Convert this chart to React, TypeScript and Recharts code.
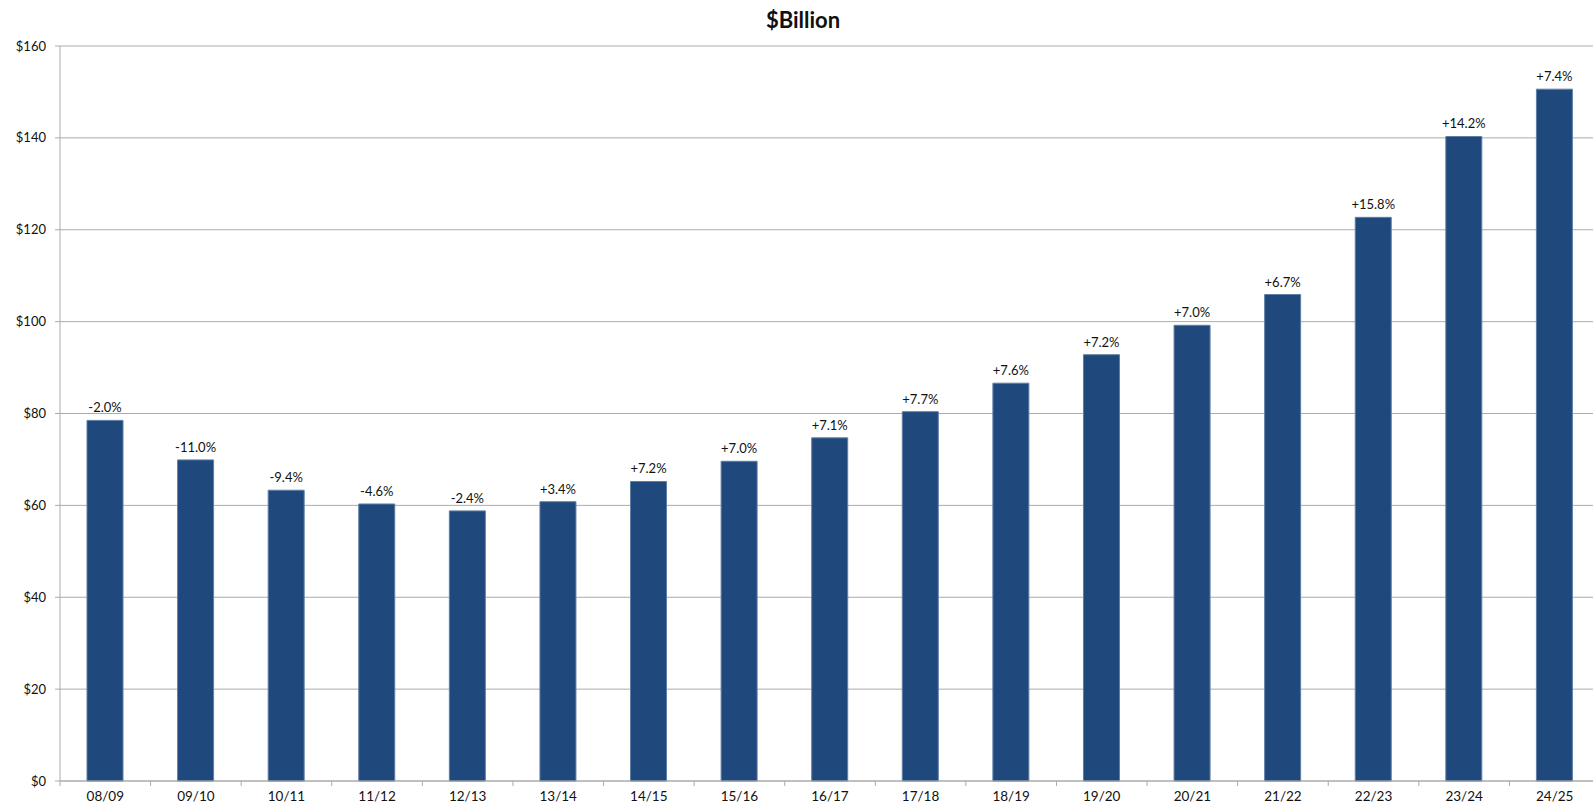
import { BarChart, Bar, XAxis, YAxis, CartesianGrid, LabelList } from 'recharts'

const years = ['08/09', '09/10', '10/11', '11/12', '12/13', '13/14', '14/15', '15/16', '16/17', '17/18', '18/19', '19/20', '20/21', '21/22', '22/23', '23/24', '24/25']
const spending = [78.5, 69.9, 63.3, 60.3, 58.8, 60.8, 65.2, 69.6, 74.7, 80.4, 86.6, 92.8, 99.2, 105.9, 122.7, 140.3, 150.6]
const growth = ['-2.0%', '-11.0%', '-9.4%', '-4.6%', '-2.4%', '+3.4%', '+7.2%', '+7.0%', '+7.1%', '+7.7%', '+7.6%', '+7.2%', '+7.0%', '+6.7%', '+15.8%', '+14.2%', '+7.4%']
const yTicks = [0, 20, 40, 60, 80, 100, 120, 140, 160]

const data = years.map((year, i) => ({ year, value: spending[i], change: growth[i] }))

const FONT = 'Lato, "Open Sans", sans-serif'
const AXIS_GREY = '#ababab'
const HALF_BAND = 1540 / years.length / 2

function YearTick({ x, y, payload, index }: any) {
  return (
    <g>
      <line x1={x - HALF_BAND} x2={x - HALF_BAND} y1={y} y2={y + 5} stroke={AXIS_GREY} />
      {index === years.length - 1 && (
        <line x1={x + HALF_BAND} x2={x + HALF_BAND} y1={y} y2={y + 5} stroke={AXIS_GREY} />
      )}
      <text x={x} y={y + 20} textAnchor="middle" fontSize={13.5} fill="#111" fontFamily={FONT}>
        {payload.value}
      </text>
    </g>
  )
}

export default function App() {
  return (
    <div style={{ position: 'absolute', left: 0, top: 0, width: 1593, height: 809, overflow: 'hidden', background: '#fff' }}>
      <div
        style={{
          position: 'absolute',
          top: 6,
          left: 0,
          width: 1606,
          textAlign: 'center',
          fontFamily: FONT,
          fontWeight: 700,
          fontSize: 22,
          color: '#111',
        }}
      >
        $Billion
      </div>
      <BarChart
        width={1600}
        height={809}
        data={data}
        margin={{ top: 46, right: 0, left: 0, bottom: 0 }}
        barCategoryGap="30%"
      >
        <CartesianGrid vertical={false} stroke={AXIS_GREY} />
        <XAxis
          dataKey="year"
          height={28}
          axisLine={{ stroke: AXIS_GREY }}
          tickLine={false}
          tickSize={0}
          tickMargin={0}
          tick={<YearTick />}
          interval={0}
        />
        <YAxis
          width={60}
          domain={[0, 160]}
          ticks={yTicks}
          tickFormatter={(v: number) => `$${v}`}
          axisLine={{ stroke: AXIS_GREY }}
          tickLine={{ stroke: AXIS_GREY }}
          tickSize={5}
          tickMargin={9}
          tick={{ fontSize: 13, fill: '#111', fontFamily: FONT }}
        />
        <Bar dataKey="value" fill="#1f497d" stroke="#5f7fa6" strokeWidth={1} barSize={36} isAnimationActive={false}>
          <LabelList dataKey="change" position="top" offset={8} fontSize={13} fill="#111" fontFamily={FONT} />
        </Bar>
      </BarChart>
    </div>
  )
}
